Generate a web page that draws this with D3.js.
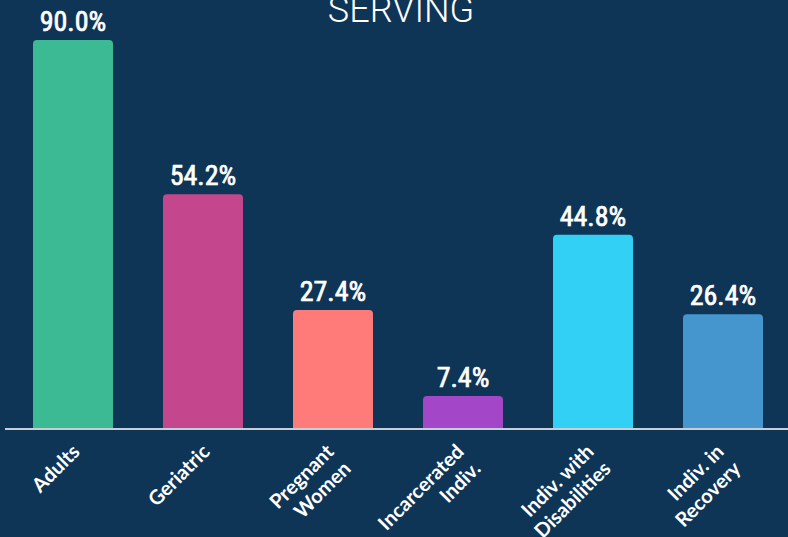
<!DOCTYPE html>
<meta charset="utf-8">
<script src="https://d3js.org/d3.v7.min.js"></script>
<style>
  body { margin: 0; background: #0f3556; }
</style>
<div id="my_dataviz"></div>
<script>
    // data
    var categories = ["Adults", "Geriatric", "Pregnant\nWomen", "Incarcerated\nIndiv.", "Indiv. with\nDisabilities", "Indiv. in\nRecovery"];
    var values = [90.0, 54.2, 27.4, 7.4, 44.8, 26.4];
    var colors = ["#3bba93", "#c4468c", "#ff7b7a", "#a346c8", "#33d0f5", "#4596cf"];
    var title = "SERVING";

    var width = 788, height = 537, baseY = 428;

    var svg = d3.select("#my_dataviz")
        .append("svg")
        .attr("width", width)
        .attr("height", height)
        .style("display", "block")
        .style("background", "#0f3556");

    // title, cut off at the top like the original
    svg.append("text")
        .attr("x", 401)
        .attr("y", 22)
        .attr("text-anchor", "middle")
        .style("font-family", "Roboto")
        .style("font-weight", 300)
        .style("font-size", "36px")
        .style("fill", "#ffffff")
        .text(title);

    var x = d3.scaleBand()
        .domain(categories)
        .range([8, 788])
        .paddingInner(50 / 130)
        .paddingOuter(0.1923);

    var y = d3.scaleLinear()
        .domain([0, 90])
        .range([baseY, 40]);

    var data = categories.map(function (c, i) { return { cat: c, val: values[i], col: colors[i] }; });

    // bars with rounded top corners
    function barPath(d) {
        var x0 = x(d.cat), w = x.bandwidth(), y0 = y(d.val), r = 4;
        return "M" + x0 + "," + baseY +
            "V" + (y0 + r) +
            "Q" + x0 + "," + y0 + " " + (x0 + r) + "," + y0 +
            "H" + (x0 + w - r) +
            "Q" + (x0 + w) + "," + y0 + " " + (x0 + w) + "," + (y0 + r) +
            "V" + baseY + "Z";
    }

    svg.selectAll("mybar")
        .data(data)
        .enter()
        .append("path")
        .attr("d", barPath)
        .style("fill", function (d) { return d.col; });

    // value labels
    svg.selectAll("myval")
        .data(data)
        .enter()
        .append("text")
        .attr("x", function (d) { return x(d.cat) + x.bandwidth() / 2; })
        .attr("y", function (d) { return y(d.val) - 9; })
        .attr("text-anchor", "middle")
        .style("font-family", "'Liberation Sans Narrow', 'Roboto Condensed', sans-serif")
        .style("font-size", "28px")
        .style("fill", "#ffffff")
        .style("stroke", "#ffffff")
        .style("stroke-width", 0.7)
        .text(function (d) { return d.val.toFixed(1) + "%"; });

    // axis line
    svg.append("line")
        .attr("x1", 5)
        .attr("x2", 788)
        .attr("y1", baseY + 1)
        .attr("y2", baseY + 1)
        .attr("stroke", "#c6cfd8")
        .attr("stroke-width", 2);

    // rotated category labels
    var labels = svg.selectAll("mylabel")
        .data(data)
        .enter()
        .append("text")
        .attr("transform", function (d) {
            var n = d.cat.split("\n").length;
            var cx = x(d.cat) + x.bandwidth() / 2 + (n == 1 ? 8 : 2);
            return "translate(" + cx + "," + 453 + ")rotate(-45)";
        })
        .attr("text-anchor", "end")
        .style("font-family", "Lato")
        .style("font-weight", "bold")
        .style("font-size", "20px")
        .style("fill", "#ffffff");

    labels.selectAll("tspan")
        .data(function (d) { return d.cat.split("\n"); })
        .enter()
        .append("tspan")
        .attr("x", 0)
        .attr("dy", function (d, i) { return i == 0 ? 0 : 24; })
        .text(function (d) { return d; });
</script>
